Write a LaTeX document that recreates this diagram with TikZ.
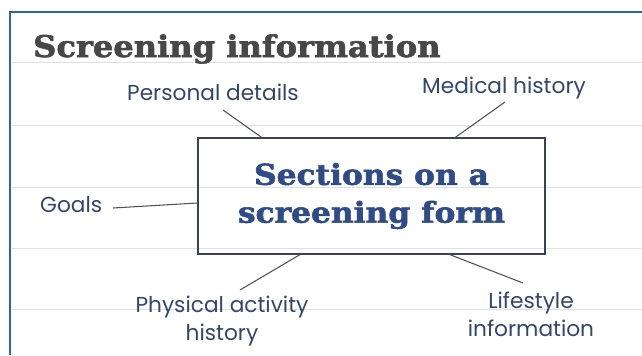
\documentclass[tikz,border=0pt]{standalone}
\usepackage{fontspec}
\setmainfont{DejaVu Serif}
\newfontfamily\labelfont{Poppins}
\newfontfamily\titlefont[FakeStretch=1.075, FakeBold=2]{DejaVu Serif Bold}
\newfontfamily\boxfont[FakeStretch=1.09, FakeBold=2]{DejaVu Serif Bold}
\usetikzlibrary{calc}
\definecolor{frameblue}{HTML}{2E62B0}
\definecolor{titlegrey}{HTML}{474747}
\definecolor{boxtext}{HTML}{2F4C88}
\definecolor{labeltext}{HTML}{34466E}
\definecolor{boxline}{HTML}{3A4058}
\definecolor{linkline}{HTML}{4A5062}
\definecolor{ruled}{HTML}{E0E0E0}
\tikzset{
  lbl/.style={font=\labelfont\fontsize{18.5}{23.8}\selectfont, text=labeltext, align=center, inner sep=0pt},
  link/.style={draw=linkline, line width=0.9pt},
  formbox/.style={draw=boxline, line width=1.3pt, minimum width=10.41cm, minimum height=3.48cm,
    font=\boxfont\fontsize{24.5}{32.3}\selectfont, text=boxtext, align=center, inner sep=0pt},
}
\begin{document}
\begin{tikzpicture}[x=0.03cm, y=-0.03cm]
  \useasboundingbox (0,0) rectangle (642,355);
  \fill[white] (0,0) rectangle (642,355);
  % ruled notebook lines
  \foreach \yy in {62,125,187,248,309}
    \draw[ruled, line width=0.6pt] (12,\yy) -- (642,\yy);
  % page frame
  \draw[frameblue, line width=2.2pt] (10,355) -- (10,12) -- (642,12);
  % heading
  \node[anchor=base west, inner sep=0pt, text=titlegrey, font=\titlefont\fontsize{25.5}{30}\selectfont]
    (title) at (33,57) {Screening information};
  % central box
  \node[formbox] (box) at (371.5,196) {Sections on a\\screening form};
  % labels
  \node[lbl] (pd) at (213,92) {Personal details};
  \node[lbl] (mh) at (504,88) {Medical history};
  \node[lbl, anchor=west] (goals) at (40,205) {Goals};
  \node[lbl] (pa) at (222,321) {Physical activity\\history};
  \node[lbl] (li) at (531,314) {Lifestyle\\information};
  % connector ends near the labels
  \coordinate (pdend) at (223,110);
  \coordinate (mhend) at (505,102);
  \coordinate (goalsend) at (113,208);
  \coordinate (paend) at (240,290);
  \coordinate (liend) at (523,283);
  % connectors
  \draw[link] (pdend) -- ($(box.north west)!0.184!(box.north east)$);
  \draw[link] (mhend) -- ($(box.north west)!0.741!(box.north east)$);
  \draw[link] (goalsend) -- ($(box.west)+(0,7)$);
  \draw[link] (paend) -- ($(box.south west)!0.294!(box.south east)$);
  \draw[link] (liend) -- ($(box.south west)!0.726!(box.south east)$);
\end{tikzpicture}
\end{document}
